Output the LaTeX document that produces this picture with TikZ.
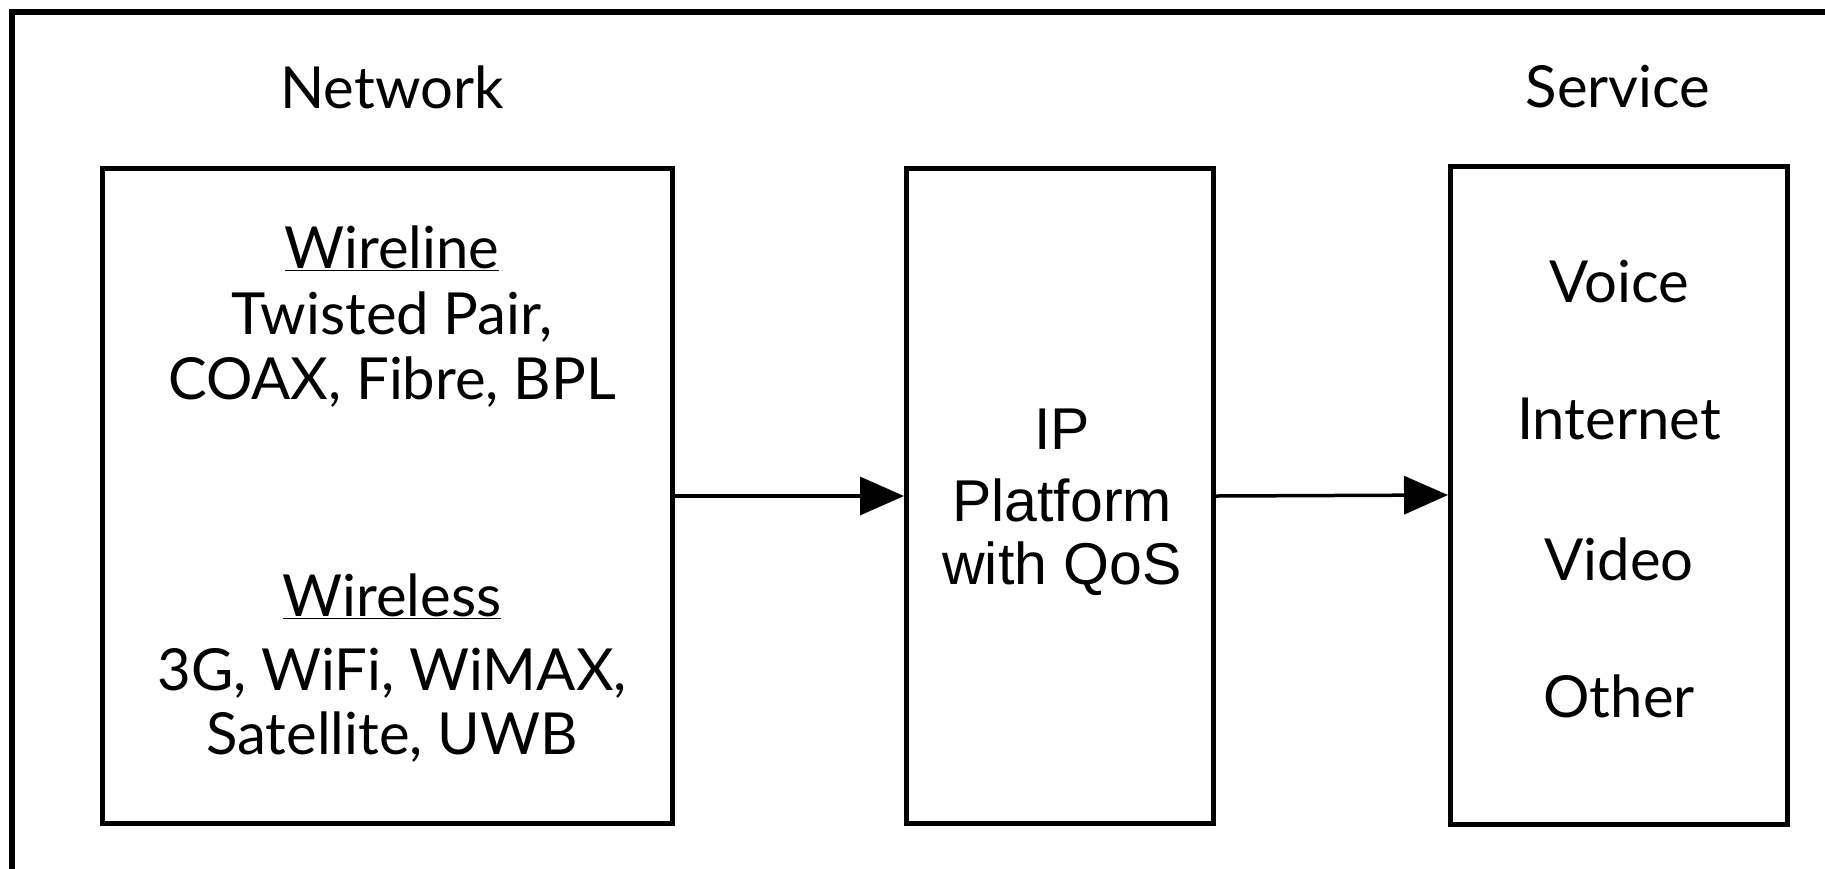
\documentclass[tikz,border=0pt]{standalone}
\usepackage{fontspec}
\setmainfont{Lato}
\newfontfamily\helv{Liberation Sans}
\usetikzlibrary{arrows.meta}

\tikzset{
  box/.style={draw, line width=5pt, inner sep=0pt},
  txt/.style={font=\fontsize{58}{66}\selectfont, inner sep=0pt},
  iptxt/.style={font=\helv\fontsize{59}{66}\selectfont, inner sep=0pt},
  arr/.style={line width=3.5pt, -{Triangle[length=44pt,width=38pt]}}
}

\begin{document}
\begin{tikzpicture}[x=1pt,y=-1pt]
  \useasboundingbox (0,0) rectangle (1825,868);
  \clip (0,0) rectangle (1825,868);
  % outer frame, running off the page at right and bottom
  \draw[line width=6pt] (12,12) rectangle (1850,890);

  % headings
  \node[txt] (network) at (392,87) {Network};
  \node[txt] (service) at (1618,87) {Service};

  % boxes
  \node[box, minimum width=570pt, minimum height=655pt] (net) at (387,496) {};
  \node[box, minimum width=307pt, minimum height=655pt] (ip) at (1060,496) {};
  \node[box, minimum width=337pt, minimum height=658pt] (svc) at (1619,495) {};

  % network box
  \node[txt] (wireline) at (392,248) {\underline{Wireline}};
  \node[txt] (twisted) at (392,317) {Twisted Pair,};
  \node[txt] (coax) at (392,382) {COAX, Fibre, BPL};
  \node[txt] (wireless) at (392,596) {\underline{Wireless}};
  \node[txt] (threeg) at (392,673) {3G, WiFi, WiMAX,};
  \node[txt] (sat) at (392,737) {Satellite, UWB};

  % platform box
  \node[iptxt] (iplab) at (1062,429) {IP};
  \node[iptxt] (platform) at (1062,500) {Platform};
  \node[iptxt] (qos) at (1062,569) {with QoS};

  % service box
  \node[txt] (voice) at (1619,282) {Voice};
  \node[txt] (internet) at (1619,419) {Internet};
  \node[txt] (video) at (1619,559) {Video};
  \node[txt] (other) at (1619,696) {Other};

  \draw[arr] (net.east) -- (ip.west);
  \draw[arr] (ip.east) -- (svc.west);
\end{tikzpicture}
\end{document}
